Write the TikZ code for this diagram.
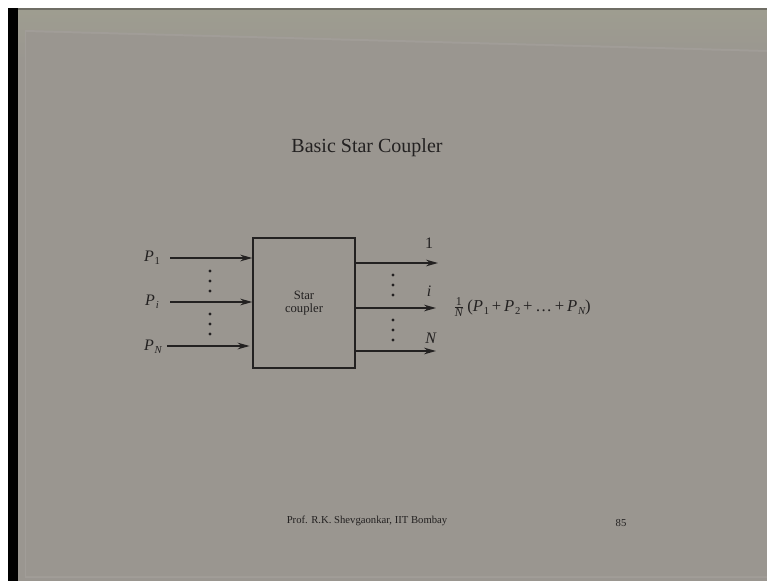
\documentclass[tikz,border=0pt]{standalone}
\usepackage{fontspec}
\setmainfont{Liberation Serif}
\usetikzlibrary{arrows.meta}
\definecolor{slide}{HTML}{9A9690}
\definecolor{slidetop}{HTML}{9E9D90}
\definecolor{ink}{HTML}{232121}
\newcommand{\sP}[1]{\textit{P}\kern0.05em\raisebox{-0.35ex}{\fontsize{8}{8}\selectfont #1}}
\tikzset{
  lbl/.style={text=ink, inner sep=0pt},
  conn/.style={draw=ink, line width=1.1pt, -{Stealth[length=9pt,width=5pt]}},
  dotcol/.style={fill=ink, circle, inner sep=0pt, minimum size=2.6pt},
}
\begin{document}
\begin{tikzpicture}[x=0.75pt,y=-0.75pt]
\useasboundingbox (0,0) rectangle (767,581);
% photo frame
\fill[white] (0,0) rectangle (767,581);
\fill[black] (8,8) rectangle (18,581);
\fill[slidetop!70!black] (18,8) rectangle (767,11);
\fill[slide] (18,11) rectangle (767,581);
\shade[top color=slidetop, bottom color=slide] (18,11) rectangle (767,60);
\fill[slide!93!white] (25,30) -- (767,50) -- (767,578) -- (25,578) -- cycle;
\fill[slide] (26,32) -- (767,52) -- (767,576) -- (26,576) -- cycle;
% title
\node[lbl, font=\fontsize{15}{18}\selectfont] (title) at (367,148) {Basic Star Coupler};
% coupler box
\node[draw=ink, line width=1.1pt, minimum width=76.5pt, minimum height=97.5pt, inner sep=0pt,
      align=center, text=ink, font=\fontsize{9.5}{10}\selectfont] (box) at (304,303) {Star\\coupler};
% input labels
\node[lbl, font=\fontsize{12}{12}\selectfont] (p1) at (152,258) {\sP{1}};
\node[lbl, font=\fontsize{12}{12}\selectfont] (pi) at (152,302) {\sP{\itshape i}};
\node[lbl, font=\fontsize{12}{12}\selectfont] (pn) at (153,347) {\sP{\itshape N}};
% input arrows
\coordinate (a1) at (170,258);
\coordinate (ai) at (170,302);
\coordinate (an) at (167,346);
\draw[conn] (a1) -- (a1 -| box.west);
\draw[conn] (ai) -- (ai -| box.west);
\draw[conn] (an) -- ([xshift=-2]an -| box.west);
% output arrows
\coordinate (b1) at (355,263);
\coordinate (bi) at (355,308);
\coordinate (bn) at (355,351);
\coordinate (e1) at (438,263);
\coordinate (ei) at (436,308);
\coordinate (en) at (436,351);
\draw[conn] (b1) -- (e1);
\draw[conn] (bi) -- (ei);
\draw[conn] (bn) -- (en);
% output labels
\node[lbl, font=\fontsize{12}{12}\selectfont] (o1) at (429,243) {1};
\node[lbl, font=\fontsize{12}{12}\selectfont] (oi) at (429,291) {\textit{i}};
\node[lbl, font=\fontsize{12}{12}\selectfont] (on) at (431,338) {\textit{N}};
% formula
\node[lbl, anchor=west, font=\fontsize{12.5}{13}\selectfont] (formula) at (453,307)
  {$\frac{\mbox{\fontsize{9}{9}\selectfont 1}}{\mbox{\fontsize{9}{9}\selectfont\itshape N}}$\,(\sP{1}\,+\,\sP{2}\,+\,\ldots\,+\,\sP{\itshape N})};
% dots
\foreach \y [count=\k] in {271,281,291,314,324,334}
  \node[dotcol] (ld\k) at (210,\y) {};
\foreach \y [count=\k] in {275,285,295,320,330,340}
  \node[dotcol] (rd\k) at (393,\y) {};
% footer
\node[lbl, font=\fontsize{8}{9}\selectfont] (footer) at (367,521) {Prof. R.K. Shevgaonkar, IIT Bombay};
\node[lbl, font=\fontsize{8}{9}\selectfont] (page) at (621,523) {85};
\end{tikzpicture}
\end{document}
